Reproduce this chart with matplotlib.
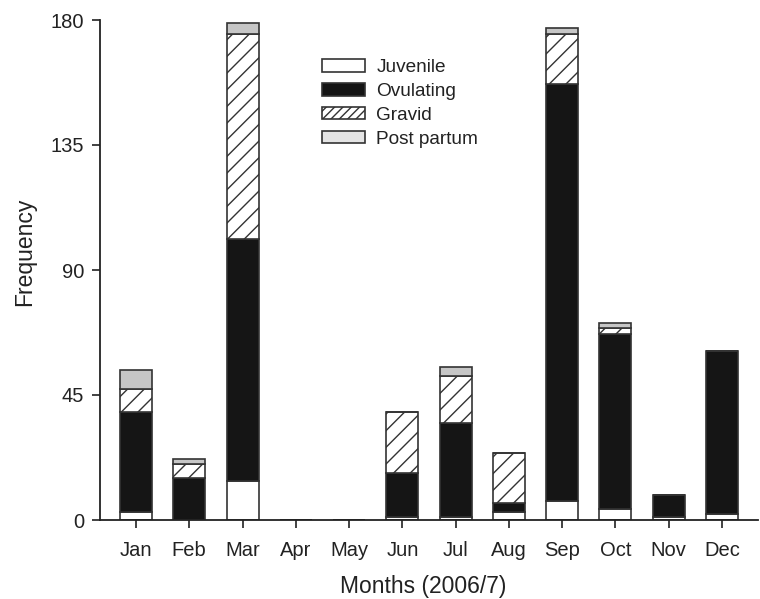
import numpy as np
import matplotlib
matplotlib.use("Agg")
import matplotlib.pyplot as plt
from matplotlib.patches import Patch

plt.rcParams.update({
    "font.family": ["Liberation Sans", "DejaVu Sans"],
    "hatch.color": "#222222",
    "hatch.linewidth": 1.0,
})

# ---------------------------------------------------------------------------
# data
# ---------------------------------------------------------------------------
months = ["Jan", "Feb", "Mar", "Apr", "May", "Jun",
          "Jul", "Aug", "Sep", "Oct", "Nov", "Dec"]
juvenile = [3, 0, 14, 0, 0, 1, 1, 3, 7, 4, 1, 2]
ovulating = [36, 15, 87, 0, 0, 16, 34, 3, 150, 63, 8, 59]
gravid = [8, 5, 74, 0, 0, 22, 17, 18, 18, 2, 0, 0]
post_partum = [7, 2, 4, 0, 0, 0, 3, 0, 2, 2, 0, 0]
y_ticks = [0, 45, 90, 135, 180]

edge = "#333333"
dark = "#151515"
grey = "#c6c6c6"

fig = plt.figure(figsize=(7.6, 5.99), dpi=100)
ax = fig.add_axes([100 / 760, 1 - 520 / 599, 658 / 760, 500 / 599])

x = np.arange(len(months))
w = 0.6
series = [
    (juvenile, dict(facecolor="white")),
    (ovulating, dict(facecolor=dark)),
    (gravid, dict(facecolor="white", hatch="//")),
    (post_partum, dict(facecolor=grey)),
]
bottom = np.zeros(len(months))
for vals, style in series:
    vals = np.array(vals, dtype=float)
    ax.bar(x, vals, w, bottom=bottom, edgecolor=edge, linewidth=1.2, **style)
    bottom += vals

ax.set_xlim(-0.675, 11.675)
ax.set_ylim(0, 180)
ax.set_yticks(y_ticks)
ax.set_xticks(x)
ax.set_xticklabels(months)

for s in ("top", "right"):
    ax.spines[s].set_visible(False)
for s in ("left", "bottom"):
    ax.spines[s].set_linewidth(1.3)
    ax.spines[s].set_color("#222222")
ax.tick_params(axis="both", length=5.8, width=1.2, color="#222222",
               labelsize=14.5, labelcolor="#222222")
ax.tick_params(axis="x", pad=9)
ax.tick_params(axis="y", pad=5.5)

ax.set_xlabel("Months (2006/7)", fontsize=16.5, color="#222222")
ax.set_ylabel("Frequency", fontsize=16.5, color="#222222")
ax.xaxis.set_label_coords(0.491, -0.11)
ax.yaxis.set_label_coords(-0.097, 0.536)

handles = [
    Patch(facecolor="white", edgecolor=edge, linewidth=1.2, label="Juvenile"),
    Patch(facecolor=dark, edgecolor=edge, linewidth=1.2, label="Ovulating"),
    Patch(facecolor="white", edgecolor=edge, linewidth=1.2, hatch="////", label="Gravid"),
    Patch(facecolor="#e4e4e4", edgecolor=edge, linewidth=1.2, label="Post partum"),
]
leg = fig.legend(handles=handles, loc="upper left",
                 bbox_to_anchor=(322 / 760, 1 - 59 / 599),
                 frameon=False, fontsize=13.7, borderpad=0, borderaxespad=0,
                 handlelength=2.25, handleheight=0.65, handletextpad=0.6,
                 labelspacing=0.36)
for t in leg.get_texts():
    t.set_color("#222222")

fig.savefig("out.png", dpi=100)
